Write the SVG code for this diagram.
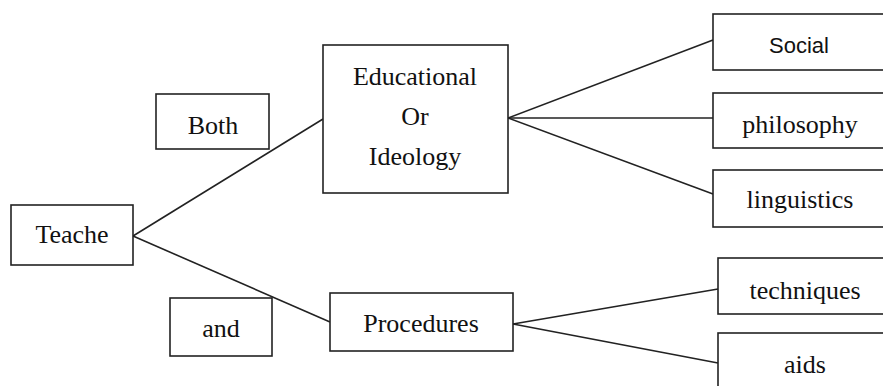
<svg xmlns="http://www.w3.org/2000/svg" width="883" height="386" viewBox="0 0 883 386">
<style>
rect{fill:#fff;stroke:#222;stroke-width:1.6}
text{font-family:"Liberation Serif","Times New Roman",serif;font-size:26px;fill:#111;text-anchor:middle}
.sans{font-family:"Liberation Sans",Arial,sans-serif;font-size:22px}
#connectors line{stroke:#222;stroke-width:1.6}
</style>
<rect x="0" y="0" width="883" height="386" style="stroke:none"/>
<g id="connectors">
<line x1="133" y1="236" x2="323" y2="119"/>
<line x1="133" y1="236" x2="330" y2="322"/>
<line x1="508" y1="118" x2="713" y2="40"/>
<line x1="508" y1="118" x2="713" y2="118"/>
<line x1="508" y1="118" x2="713" y2="194"/>
<line x1="513" y1="324" x2="718" y2="289"/>
<line x1="513" y1="324" x2="718" y2="363"/>
</g>
<g id="teache"><rect x="11" y="205" width="122" height="60"/><text x="72" y="243">Teache</text></g>
<g id="both"><rect x="156" y="94" width="113" height="55"/><text x="213" y="134">Both</text></g>
<g id="and"><rect x="170" y="298" width="102" height="58"/><text x="221" y="337">and</text></g>
<g id="educational"><rect x="323" y="45" width="185" height="148"/><text x="415" y="85">Educational</text><text x="415" y="125">Or</text><text x="415" y="165">Ideology</text></g>
<g id="procedures"><rect x="330" y="293" width="183" height="58"/><text x="421" y="332">Procedures</text></g>
<g id="social"><rect x="713" y="14" width="180" height="56"/><text class="sans" x="799" y="53">Social</text></g>
<g id="philosophy"><rect x="713" y="93" width="180" height="55"/><text x="800" y="133">philosophy</text></g>
<g id="linguistics"><rect x="713" y="170" width="180" height="57"/><text x="800" y="208">linguistics</text></g>
<g id="techniques"><rect x="718" y="258" width="180" height="56"/><text x="805" y="299">techniques</text></g>
<g id="aids"><rect x="718" y="333" width="180" height="70"/><text x="805" y="373">aids</text></g>
</svg>
